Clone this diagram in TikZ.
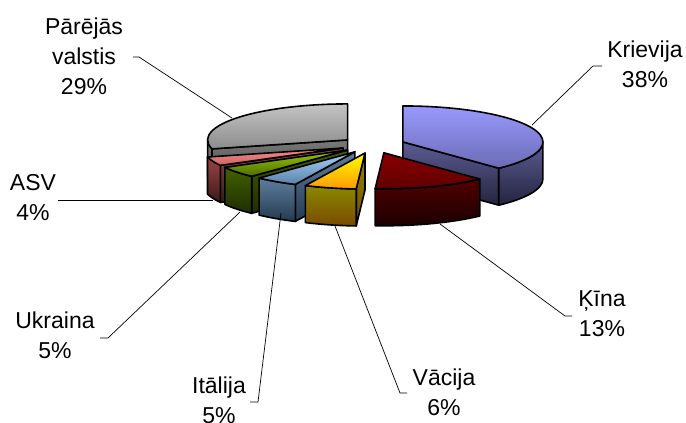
\documentclass[tikz,border=0pt]{standalone}
\usepackage{fontspec}
\setmainfont{Liberation Sans}
\usetikzlibrary{positioning}

\definecolor{prTopA}{HTML}{C4C4C4}\definecolor{prTopB}{HTML}{8C8C8C}
\definecolor{prSideA}{HTML}{7A7A7A}\definecolor{prSideB}{HTML}{404040}
\definecolor{krTopA}{HTML}{9999FF}\definecolor{krTopB}{HTML}{6B6BB5}
\definecolor{krSideA}{HTML}{5C5C94}\definecolor{krSideB}{HTML}{24243F}
\definecolor{knTopA}{HTML}{8A0000}\definecolor{knTopB}{HTML}{5E0000}
\definecolor{knSideA}{HTML}{520000}\definecolor{knSideB}{HTML}{1A0000}
\definecolor{vcTopA}{HTML}{FFFF00}\definecolor{vcTopB}{HTML}{FF9900}
\definecolor{vcSideA}{HTML}{8A8A00}\definecolor{vcSideB}{HTML}{7A4A00}
\definecolor{itTopA}{HTML}{A6D2FF}\definecolor{itTopB}{HTML}{5A82A8}
\definecolor{itSideA}{HTML}{5E7D9C}\definecolor{itSideB}{HTML}{243A50}
\definecolor{ukTopA}{HTML}{9ACD00}\definecolor{ukTopB}{HTML}{4E6B00}
\definecolor{ukSideA}{HTML}{436000}\definecolor{ukSideB}{HTML}{1E2E00}
\definecolor{usTopA}{HTML}{FF8A8A}\definecolor{usTopB}{HTML}{C86464}
\definecolor{usSideA}{HTML}{9A4646}\definecolor{usSideB}{HTML}{3C1818}

% #1 start angle, #2 end angle (clockwise), #3/#4 top colours, #5/#6 side colours
\newcommand{\pieslice}[6]{%
  \pgfmathsetmacro{\slMid}{(#1+#2)/2}%
  \pgfmathsetmacro{\slX}{373+0.23*140*cos(\slMid)}%
  \pgfmathsetmacro{\slY}{-145+0.23*36*sin(\slMid)}%
  \pgfmathsetmacro{\slFrom}{min(#1,0)}%
  \pgfmathsetmacro{\slTo}{max(#2,-180)}%
  \pgfmathparse{cos(#1)<-0.01 ? 1 : 0}%
  \ifdim\pgfmathresult pt>0.5pt
    \path[face, top color=#5, bottom color=#6] (\slX,\slY) -- ({\slX+140*cos(#1)},{\slY+36*sin(#1)}) -- ++(0,-37) -- (\slX,\slY-37) -- cycle;
  \fi
  \pgfmathparse{cos(#2)>0.01 ? 1 : 0}%
  \ifdim\pgfmathresult pt>0.5pt
    \path[face, top color=#5, bottom color=#6] (\slX,\slY) -- ({\slX+140*cos(#2)},{\slY+36*sin(#2)}) -- ++(0,-37) -- (\slX,\slY-37) -- cycle;
  \fi
  \pgfmathparse{\slFrom>\slTo ? 1 : 0}%
  \ifdim\pgfmathresult pt>0.5pt
    \path[face, top color=#5, bottom color=#6] ({\slX+140*cos(\slFrom)},{\slY+36*sin(\slFrom)})
      arc[start angle=\slFrom, end angle=\slTo, x radius=140, y radius=36] -- ++(0,-37)
      arc[start angle=\slTo, end angle=\slFrom, x radius=140, y radius=36] -- cycle;
  \fi
  \path[face, top color=#3, bottom color=#4] (\slX,\slY) -- ({\slX+140*cos(#1)},{\slY+36*sin(#1)})
    arc[start angle=#1, end angle=#2, x radius=140, y radius=36] -- cycle;
}

\begin{document}
\begin{tikzpicture}[x=1pt, y=1pt,
        every node/.style={align=center, inner sep=0pt, font=\fontsize{23}{30}\selectfont},
        face/.style={draw, line width=1.6pt, line join=round},
        leader/.style={draw, line width=0.7pt}
    ]
    \useasboundingbox (0,0) rectangle (686,-423);

    % Slices, back to front
    \pieslice{-165.6}{-270}{prTopA}{prTopB}{prSideA}{prSideB}
    \pieslice{90}{-46.8}{krTopA}{krTopB}{krSideA}{krSideB}
    \pieslice{-151.2}{-165.6}{usTopA}{usTopB}{usSideA}{usSideB}
    \pieslice{-133.2}{-151.2}{ukTopA}{ukTopB}{ukSideA}{ukSideB}
    \pieslice{-115.2}{-133.2}{itTopA}{itTopB}{itSideA}{itSideB}
    \pieslice{-46.8}{-93.6}{knTopA}{knTopB}{knSideA}{knSideB}
    \pieslice{-93.6}{-115.2}{vcTopA}{vcTopB}{vcSideA}{vcSideB}

    % Nodes
    \node (par) at (84,-56) {P\={a}r\={e}j\={a}s\\valstis\\29\%};
    \node (kr) at (645,-64) {Krievija\\38\%};
    \node (asv) at (33,-198) {ASV\\4\%};
    \node (uk) at (55,-335) {Ukraina\\5\%};
    \node (it) at (219,-400) {It\={a}lija\\5\%};
    \node (vc) at (444,-392) {V\={a}cija\\6\%};
    \node (kn) at (602,-314) {\c{K}\={\i}na\\13\%};

    \coordinate (par-a) at (133,-57);  \coordinate (par-b) at (139,-57);  \coordinate (par-tip) at (232,-118);
    \coordinate (kr-a) at (602,-66);   \coordinate (kr-b) at (593,-66);   \coordinate (kr-tip) at (532,-125);
    \coordinate (asv-a) at (58,-200);  \coordinate (asv-tip) at (213,-200);
    \coordinate (uk-a) at (100,-338);  \coordinate (uk-b) at (108,-338);  \coordinate (uk-tip) at (240,-212);
    \coordinate (it-a) at (250,-402);  \coordinate (it-b) at (258,-402);  \coordinate (it-tip) at (281,-213);
    \coordinate (vc-a) at (407,-393);  \coordinate (vc-b) at (400,-393);  \coordinate (vc-tip) at (335,-226);
    \coordinate (kn-a) at (572,-316);  \coordinate (kn-b) at (565,-316);  \coordinate (kn-tip) at (440,-224);

    % Edges
    \draw[leader] (par-a) -- (par-b) -- (par-tip);
    \draw[leader] (kr-a) -- (kr-b) -- (kr-tip);
    \draw[leader] (asv-a) -- (asv-tip);
    \draw[leader] (uk-a) -- (uk-b) -- (uk-tip);
    \draw[leader] (it-a) -- (it-b) -- (it-tip);
    \draw[leader] (vc-a) -- (vc-b) -- (vc-tip);
    \draw[leader] (kn-a) -- (kn-b) -- (kn-tip);
\end{tikzpicture}
\end{document}
